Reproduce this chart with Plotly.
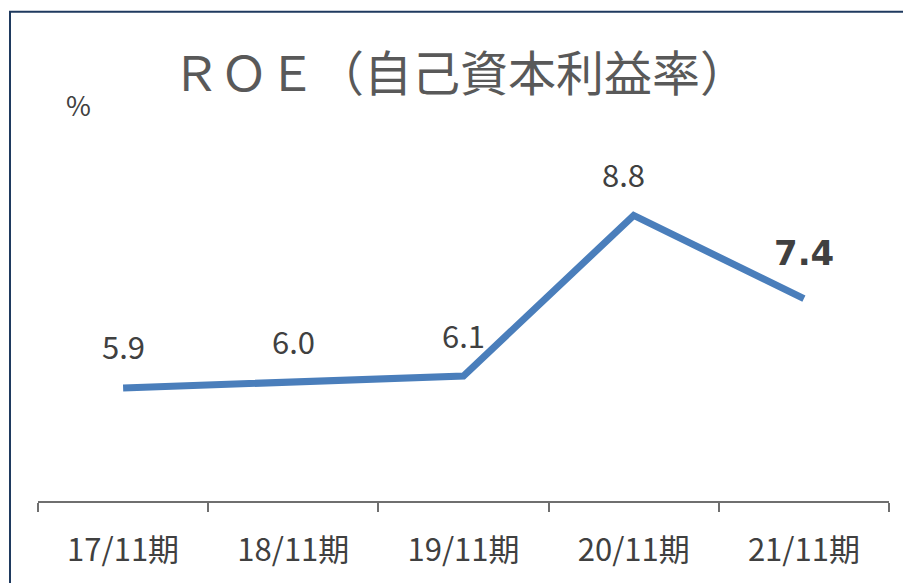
import plotly.graph_objects as go

categories = ["17/11期", "18/11期", "19/11期", "20/11期", "21/11期"]
roe_values = [5.9, 6.0, 6.1, 8.8, 7.4]
label_texts = ["5.9", "6.0", "6.1", "8.8", "7.4"]

FONT = "Noto Sans CJK JP, Noto Sans, sans-serif"
LINE_COLOR = "#4a7ebb"
TEXT_COLOR = "#404040"

# plot area geometry (pixels)
L, R, T, B = 38, 889, 143.5, 501
W, H = 903, 583
PW, PH = R - L, B - T

def px(xp):
    return (xp - L) / PW

def py(yp):
    return (B - yp) / PH

fig = go.Figure()
fig.add_trace(go.Scatter(
    x=categories, y=roe_values, mode="lines",
    line=dict(color=LINE_COLOR, width=7),
    hoverinfo="skip", showlegend=False,
))

label_xshift = [0, 0, 0, -10, 0]
for i, (c, v, t) in enumerate(zip(categories, roe_values, label_texts)):
    last = i == len(categories) - 1
    fig.add_annotation(
        x=c, y=v, text=f"<b>{t}</b>" if last else t,
        showarrow=False, yanchor="middle", xanchor="center",
        yshift=46 if last else 42, xshift=label_xshift[i],
        font=dict(family="DejaVu Sans, sans-serif" if last else FONT,
                  size=34 if last else 31, color=TEXT_COLOR),
    )

fig.add_annotation(
    text="%", xref="paper", yref="paper",
    x=px(78), y=py(104), xanchor="center", yanchor="middle",
    showarrow=False, font=dict(family=FONT, size=27, color=TEXT_COLOR),
)

# outer frame (left and top visible)
fig.add_shape(type="rect", xref="paper", yref="paper",
              x0=px(10), x1=1.3, y0=-1, y1=py(11),
              line=dict(color="#1f3a5f", width=2), fillcolor="rgba(0,0,0,0)")

fig.update_layout(
    width=W, height=H,
    margin=dict(l=L, r=W - R, t=T, b=H - B, autoexpand=False),
    paper_bgcolor="white", plot_bgcolor="white",
    title=dict(text="ＲＯＥ（自己資本利益率）", x=460 / W, xanchor="center",
               y=1 - 74 / H, yanchor="middle",
               font=dict(family=FONT, size=48, color="#595959")),
    xaxis=dict(type="category", range=[-0.5, 4.5], showline=True,
               linecolor="#6f6f6f", linewidth=2, automargin=False,
               ticks="outside", tickson="boundaries", ticklen=9, tickcolor="#6f6f6f",
               tickwidth=1.5, showgrid=False, zeroline=False,
               ticklabelstandoff=21,
               tickfont=dict(family=FONT, size=31, color=TEXT_COLOR)),
    yaxis=dict(range=[4, 10], visible=False, showgrid=False, zeroline=False,
               automargin=False),
)

fig.write_html("out.html", config={"displayModeBar": False},
               post_script="document.body.style.margin='0';document.body.style.padding='0';")
